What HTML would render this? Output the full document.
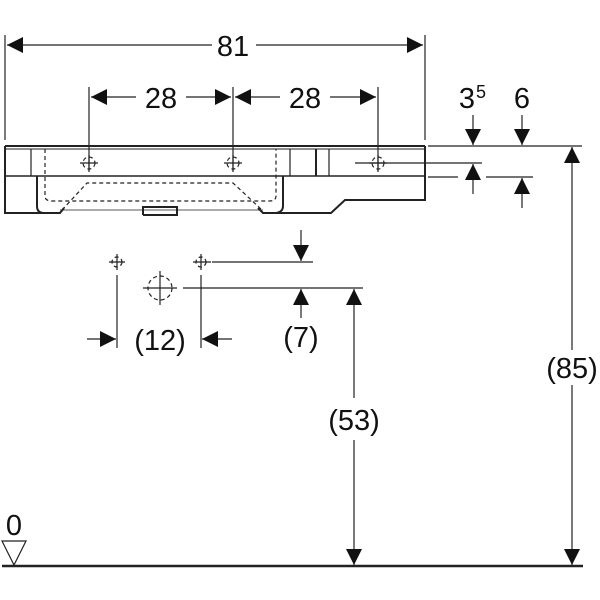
<!DOCTYPE html>
<html><head><style>
html,body{margin:0;padding:0;background:#fff;}
svg{display:block}
text{font-family:"Liberation Sans",sans-serif;fill:#111;}
</style></head><body>
<svg width="600" height="600" viewBox="0 0 600 600" xmlns="http://www.w3.org/2000/svg">
<defs>
<marker id="a" viewBox="0 0 10 10" refX="10" refY="5" markerWidth="16" markerHeight="16" markerUnits="userSpaceOnUse" orient="auto"><path d="M0,0L10,5L0,10z" fill="#111"/></marker>
</defs>
<g stroke="#222" stroke-width="1.2" fill="none">
<line x1="5" y1="35" x2="5" y2="140"/>
<line x1="425" y1="35" x2="425" y2="140"/>
<line x1="212" y1="45" x2="7" y2="45" marker-end="url(#a)"/>
<line x1="256" y1="45" x2="423" y2="45" marker-end="url(#a)"/>
<line x1="89" y1="87" x2="89" y2="172"/>
<line x1="233" y1="87" x2="233" y2="172"/>
<line x1="378" y1="87" x2="378" y2="172"/>
<line x1="136" y1="97" x2="91" y2="97" marker-end="url(#a)"/>
<line x1="186" y1="97" x2="231" y2="97" marker-end="url(#a)"/>
<line x1="280" y1="97" x2="235" y2="97" marker-end="url(#a)"/>
<line x1="330" y1="97" x2="376" y2="97" marker-end="url(#a)"/>
<line x1="428" y1="146" x2="582" y2="146"/>
<line x1="355" y1="163" x2="482" y2="163"/>
<line x1="428" y1="177" x2="458" y2="177"/>
<line x1="486" y1="177" x2="533" y2="177"/>
<line x1="473" y1="115" x2="473" y2="145" marker-end="url(#a)"/>
<line x1="473" y1="194" x2="473" y2="164" marker-end="url(#a)"/>
<line x1="522" y1="115" x2="522" y2="145" marker-end="url(#a)"/>
<line x1="522" y1="208" x2="522" y2="178" marker-end="url(#a)"/>
<line x1="572" y1="350" x2="572" y2="147" marker-end="url(#a)"/>
<line x1="572" y1="385" x2="572" y2="565" marker-end="url(#a)"/>
<path d="M5,146H425" stroke-width="2"/>
<path d="M5,149H425" stroke-width="1"/>
<path d="M5,176H425" stroke-width="1.5"/>
<path d="M5,146V213H60L64,208" stroke-width="2"/>
<path d="M37,176V206Q37,213 44,213" stroke-width="2"/>
<path d="M425,146V200H345L331,213H263L258,208" stroke-width="2"/>
<path d="M283,176V206Q283,212 276,213" stroke-width="2"/>
<line x1="31" y1="149" x2="31" y2="176"/>
<line x1="290" y1="149" x2="290" y2="176"/>
<line x1="316" y1="149" x2="316" y2="176" stroke-width="2"/>
<line x1="329" y1="149" x2="329" y2="176"/>
<path d="M143,215V207H177V215H143" stroke-width="2"/>
<line x1="60" y1="210" x2="263" y2="210" stroke-width="0.8"/>
<g stroke-dasharray="4,3">
<path d="M45,149V196Q45,201 52,201H270Q276,201 276,196V149"/>
<path d="M62,210L87,183H233L262,210"/>
<circle cx="89" cy="163" r="6"/><circle cx="233" cy="163" r="6"/><circle cx="378" cy="163" r="6"/>
<circle cx="160" cy="288" r="12"/>
<circle cx="117" cy="262" r="5"/><circle cx="201" cy="262" r="5"/>
</g>
<path d="M80,163H98M89,155V171M224,163H242M233,155V171M369,163H387M378,155V171"/>
<path d="M109,262H125M117,254V270M193,262H211M201,254V270"/>
<path d="M143,288H177M160,271V305"/>
<line x1="212" y1="262" x2="313" y2="262"/>
<line x1="183" y1="288" x2="363" y2="288"/>
<line x1="301" y1="230" x2="301" y2="261" marker-end="url(#a)"/>
<line x1="301" y1="318" x2="301" y2="289" marker-end="url(#a)"/>
<line x1="117" y1="275" x2="117" y2="348"/>
<line x1="201" y1="275" x2="201" y2="348"/>
<line x1="87" y1="339" x2="116" y2="339" marker-end="url(#a)"/>
<line x1="232" y1="339" x2="202" y2="339" marker-end="url(#a)"/>
<line x1="354" y1="398" x2="354" y2="289" marker-end="url(#a)"/>
<line x1="354" y1="440" x2="354" y2="565" marker-end="url(#a)"/>
<line x1="2" y1="566" x2="583" y2="566" stroke-width="2.5"/>
<path d="M2,541H26L14,565Z"/>
</g>
<g font-size="29" text-anchor="middle">
<text x="233" y="56">81</text>
<text x="161" y="108">28</text>
<text x="305" y="108">28</text>
<text x="467" y="108">3</text>
<text x="481" y="98" font-size="18">5</text>
<text x="522" y="108">6</text>
<text x="160" y="350">(12)</text>
<text x="301" y="347">(7)</text>
<text x="354" y="430">(53)</text>
<text x="572" y="378">(85)</text>
<text x="14" y="535">0</text>
</g>
</svg>
</body></html>
